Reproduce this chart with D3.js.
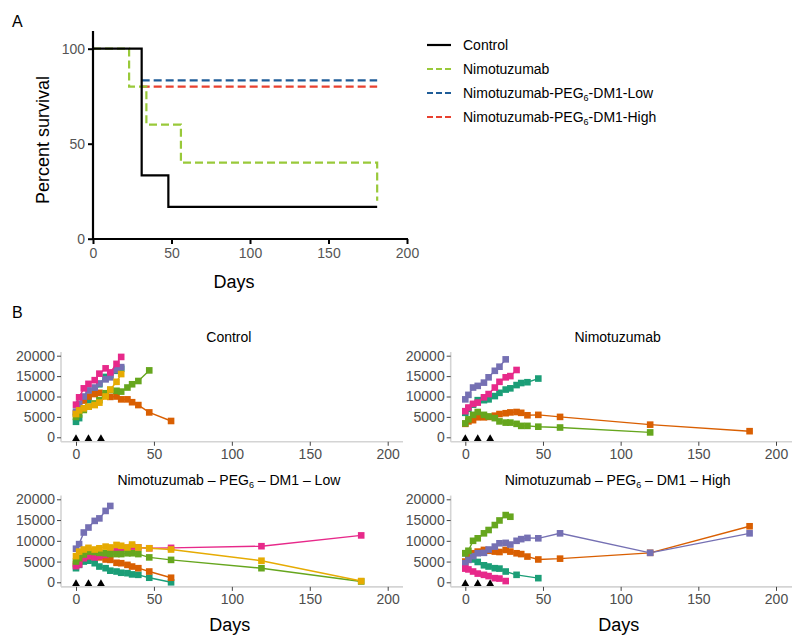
<!DOCTYPE html>
<html><head><meta charset="utf-8">
<script src="https://cdn.jsdelivr.net/npm/d3@7"></script>
<style>body{margin:0;background:#fff}svg{display:block;font-family:"Liberation Sans",Arial,sans-serif}</style>
</head><body><svg id="c" width="794" height="638"></svg>
<script>
// ---------- Panel A: survival ----------
const survNames = ["Control","Nimotuzumab","Nimotuzumab-PEG6-DM1-Low","Nimotuzumab-PEG6-DM1-High"];
const survColors = ["#000000","#99c93a","#1f5c98","#e8402f"];
const survControlT = [0,31,48,181], survControlS = [100,33.3,16.7,16.7];
const survNimoT = [0,23,34,56,181], survNimoS = [100,80,60,40,20];
const survLowT = [31,181], survLowS = [83.3,83.3];
const survHighT = [31,181], survHighS = [80,80];
const survXTicks = [0,50,100,150,200], survYTicks = [0,50,100];

// ---------- Panel B: tumour volume ----------
const groupTitles = ["Control","Nimotuzumab","Nimotuzumab – PEG6 – DM1 – Low","Nimotuzumab – PEG6 – DM1 – High"];
const mouseColors = ["#1b9e77","#d95f02","#7570b3","#e7298a","#66a61e","#e6ab02"];
const dayGrid = [0,2,5,8,12,15,19,22,26,29,33,36,40,47,61,119,183];
const doseDays = [0,8,16];
const volXTicks = [0,50,100,150,200], volYTicks = [0,5000,10000,15000,20000];

// Control (mouse colours in order teal, orange, purple, pink, green, yellow)
const ctrlTeal   = [3800,4700,7100,9200,11000,13000,14800,15200,16300,16800];
const ctrlOrange = [5900,7200,9000,10000,10600,10900,10300,9900,10000,9300,9300,8600,7900,6100,4000];
const ctrlPurple = [6300,8200,10000,11500,12200,13200,14200,14700,16500,17200];
const ctrlPink   = [8000,9800,12000,13100,14000,15600,16900,15900,18000,19700];
const ctrlGreen  = [5000,5600,6700,7500,8300,9100,10800,11600,11400,11200,12200,13000,13800,16400];
const ctrlYellow = [5700,6600,7100,7500,7900,8500,10000,11700,13600,15500];
// Nimotuzumab
const nimoTeal   = [6000,7000,8000,9100,9100,9300,10100,10900,11700,12000,12800,13300,13500,14400];
const nimoOrange = [3300,3900,4200,4900,4900,5000,5300,5700,5900,6100,6200,6000,5400,5500,5000,3100,1500];
const nimoPurple = [9300,10400,12200,12600,13400,14700,16300,17300,19100];
const nimoPink   = [6400,7300,8200,8500,9800,10600,12200,13600,14700,15000,16500];
const nimoGreen  = [3400,4400,5500,6200,5500,5100,4700,3900,3600,3600,3300,2800,2800,2600,2400,1200];
// Low dose
const lowTeal   = [3400,4200,5000,5200,4600,3800,3400,2800,2600,2300,2200,1900,1800,1100,0];
const lowOrange = [4400,5000,5900,6300,6200,6000,5500,5400,4700,4600,4200,3800,3400,2600,1100];
const lowPurple = [8100,9200,12000,13200,14800,15400,17200,18400];
const lowPink   = [3900,4300,5800,6300,6000,6300,6600,7000,7900,8200,8300,8600,8400,8200,8300,8700,11300];
const lowGreen  = [5000,5800,6700,7400,7300,7100,7000,6800,6800,6800,7000,7000,6800,6000,5400,3400,200];
const lowYellow = [6300,7400,7900,8300,7900,8200,8600,8400,9000,8800,8400,9100,8400,8200,7900,5200,300];
// High dose
const highTealDays = [0,2,5,8,12,15,19,22,26,33,47];
const highTeal   = [7000,6300,5500,4900,4100,3800,3400,3300,2600,1800,1000];
const highOrange = [5000,6000,7000,7400,7800,7600,7400,7300,7800,7400,7000,6800,6200,5500,5700,7100,13500];
const highPurple = [4600,5400,6300,7000,7100,7900,8600,9400,9500,9100,10000,10400,10700,10600,11800,7100,11800];
const highPink   = [3300,3100,2600,2100,1800,1500,1000,900,300];
const highGreen  = [7000,7600,10000,10600,11800,12600,13800,14900,16200,15800];

const ctrlDays120 = dayGrid.slice(0,16);
const groups = [
  [[0,ctrlTeal],[1,ctrlOrange],[2,ctrlPurple],[3,ctrlPink],[4,ctrlGreen],[5,ctrlYellow]],
  [[0,nimoTeal],[1,nimoOrange],[2,nimoPurple],[3,nimoPink],[4,nimoGreen,ctrlDays120]],
  [[0,lowTeal],[1,lowOrange],[2,lowPurple],[3,lowPink],[4,lowGreen],[5,lowYellow]],
  [[0,highTeal,highTealDays],[1,highOrange],[2,highPurple],[3,highPink],[4,highGreen]]
];

const svg = d3.select("#c");
const FONT = '"Liberation Sans",Arial,sans-serif';

// ===== Panel A =====
{
  const x = d3.scaleLinear().domain([0,200]).range([93,407]);
  const y = d3.scaleLinear().domain([0,100]).range([238.7,48.7]);
  const g = svg.append("g");
  g.append("text").attr("x",12).attr("y",27).attr("font-size",16).text("A");
  const series = [
    [survLowT,survLowS,2,"8,4"],[survHighT,survHighS,3,"8,4"],
    [survNimoT,survNimoS,1,"8,4"],[survControlT,survControlS,0,null]
  ];
  const line = d3.line().x(d=>x(d[0])).y(d=>y(d[1])).curve(d3.curveStepAfter);
  series.forEach(([t,s,ci,dash])=>{
    g.append("path").attr("d",line(t.map((v,i)=>[v,s[i]])))
      .attr("fill","none").attr("stroke",survColors[ci]).attr("stroke-width",2.2)
      .attr("stroke-dasharray",dash);
  });
  const ax = g.append("g").attr("transform","translate(0,239)")
    .call(d3.axisBottom(x).tickValues(survXTicks).tickSize(5).tickPadding(4));
  ax.select(".domain").remove();
  const ay = g.append("g").attr("transform","translate(93,0)")
    .call(d3.axisLeft(y).tickValues(survYTicks).tickSize(5).tickPadding(3));
  ay.select(".domain").remove();
  [ax,ay].forEach(a=>{
    a.selectAll("line").attr("stroke","#000").attr("stroke-width",2);
    a.selectAll("text").attr("font-size",14).attr("fill","#555").attr("font-family",FONT);
  });
  g.append("line").attr("x1",93).attr("x2",93).attr("y1",31).attr("y2",240).attr("stroke","#000").attr("stroke-width",2.2);
  g.append("line").attr("x1",92).attr("x2",408).attr("y1",239).attr("y2",239).attr("stroke","#000").attr("stroke-width",2.2);
  g.append("text").attr("transform","translate(49,140) rotate(-90)").attr("text-anchor","middle")
    .attr("font-size",18).text("Percent survival");
  g.append("text").attr("x",234).attr("y",288).attr("text-anchor","middle").attr("font-size",18).text("Days");

  // legend
  const lg = g.append("g");
  survNames.forEach((n,i)=>{
    const yy = 45 + i*24;
    lg.append("line").attr("x1",427).attr("x2",451).attr("y1",yy).attr("y2",yy)
      .attr("stroke",survColors[i]).attr("stroke-width",2.2).attr("stroke-dasharray",i===0?null:"6,3");
    const t = lg.append("text").attr("x",463).attr("y",yy+5).attr("font-size",14);
    const m = n.match(/^(.*PEG)6(.*)$/);
    if(m){
      t.append("tspan").text(m[1]);
      t.append("tspan").attr("dy",3).attr("font-size",9).text("6");
      t.append("tspan").attr("dy",-3).text(m[2]);
    } else t.text(n);
  });
}

// ===== Panel B =====
svg.append("text").attr("x",12).attr("y",318).attr("font-size",16).text("B");

const panels = [
  {x0:76, x1:387.7, y0:437.3, y1:355.7, ax:61, axEnd:403, titleY:342},
  {x0:465.3, x1:776, y0:437.3, y1:355.7, ax:450.7, axEnd:792, titleY:342},
  {x0:76, x1:387.7, y0:582.3, y1:499.3, ax:61, axEnd:403, titleY:485},
  {x0:465.3, x1:776, y0:582.3, y1:499.3, ax:450.7, axEnd:792, titleY:485}
];

panels.forEach((p,pi)=>{
  const x = d3.scaleLinear().domain([0,200]).range([p.x0,p.x1]);
  const y = d3.scaleLinear().domain([0,20000]).range([p.y0,p.y1]);
  const g = svg.append("g");
  const axisY = y(-1100), axisTop = y(20900);
  g.append("line").attr("x1",p.ax).attr("x2",p.ax).attr("y1",axisTop).attr("y2",axisY)
    .attr("stroke","#d4d4d4").attr("stroke-width",1.6);
  g.append("line").attr("x1",p.ax).attr("x2",p.axEnd).attr("y1",axisY).attr("y2",axisY)
    .attr("stroke","#d4d4d4").attr("stroke-width",1.6);
  const ax = g.append("g").attr("transform",`translate(0,${axisY})`)
    .call(d3.axisBottom(x).tickValues(volXTicks).tickSize(4).tickPadding(3));
  const ay = g.append("g").attr("transform",`translate(${p.ax},0)`)
    .call(d3.axisLeft(y).tickValues(volYTicks).tickSize(4).tickPadding(2).tickFormat(d3.format("d")));
  [ax,ay].forEach(a=>{
    a.select(".domain").remove();
    a.selectAll("line").attr("stroke","#444").attr("stroke-width",1);
    a.selectAll("text").attr("font-size",14).attr("fill","#4d4d4d").attr("font-family",FONT);
  });
  const tt = g.append("text").attr("x",(x(0)+x(200))/2 - 3).attr("y",p.titleY).attr("text-anchor","middle").attr("font-size",14);
  const m = groupTitles[pi].match(/^(.*PEG)6(.*)$/);
  if(m){
    tt.append("tspan").text(m[1]);
    tt.append("tspan").attr("dy",3).attr("font-size",9).text("6");
    tt.append("tspan").attr("dy",-3).text(m[2]);
  } else tt.text(groupTitles[pi]);

  const line = d3.line().x(d=>x(d[0])).y(d=>y(d[1]));
  groups[pi].forEach(([ci,vals,days])=>{
    const dd = days || dayGrid;
    const pts = vals.map((v,i)=>[dd[i],v]);
    g.append("path").attr("d",line(pts)).attr("fill","none")
      .attr("stroke",mouseColors[ci]).attr("stroke-width",1.4);
    g.selectAll(null).data(pts).enter().append("rect")
      .attr("x",d=>x(d[0])-3.3).attr("y",d=>y(d[1])-3.3).attr("width",6.6).attr("height",6.6)
      .attr("fill",mouseColors[ci]);
  });
  g.selectAll(null).data(doseDays).enter().append("path")
    .attr("d",d3.symbol(d3.symbolTriangle,26)())
    .attr("transform",d=>`translate(${x(d)},${y(0)+1.5})`).attr("fill","#000");
  if(pi>=2){
    g.append("text").attr("x",(x(0)+x(200))/2 - 2).attr("y",631).attr("text-anchor","middle")
      .attr("font-size",18).text("Days");
  }
});
</script></body></html>
